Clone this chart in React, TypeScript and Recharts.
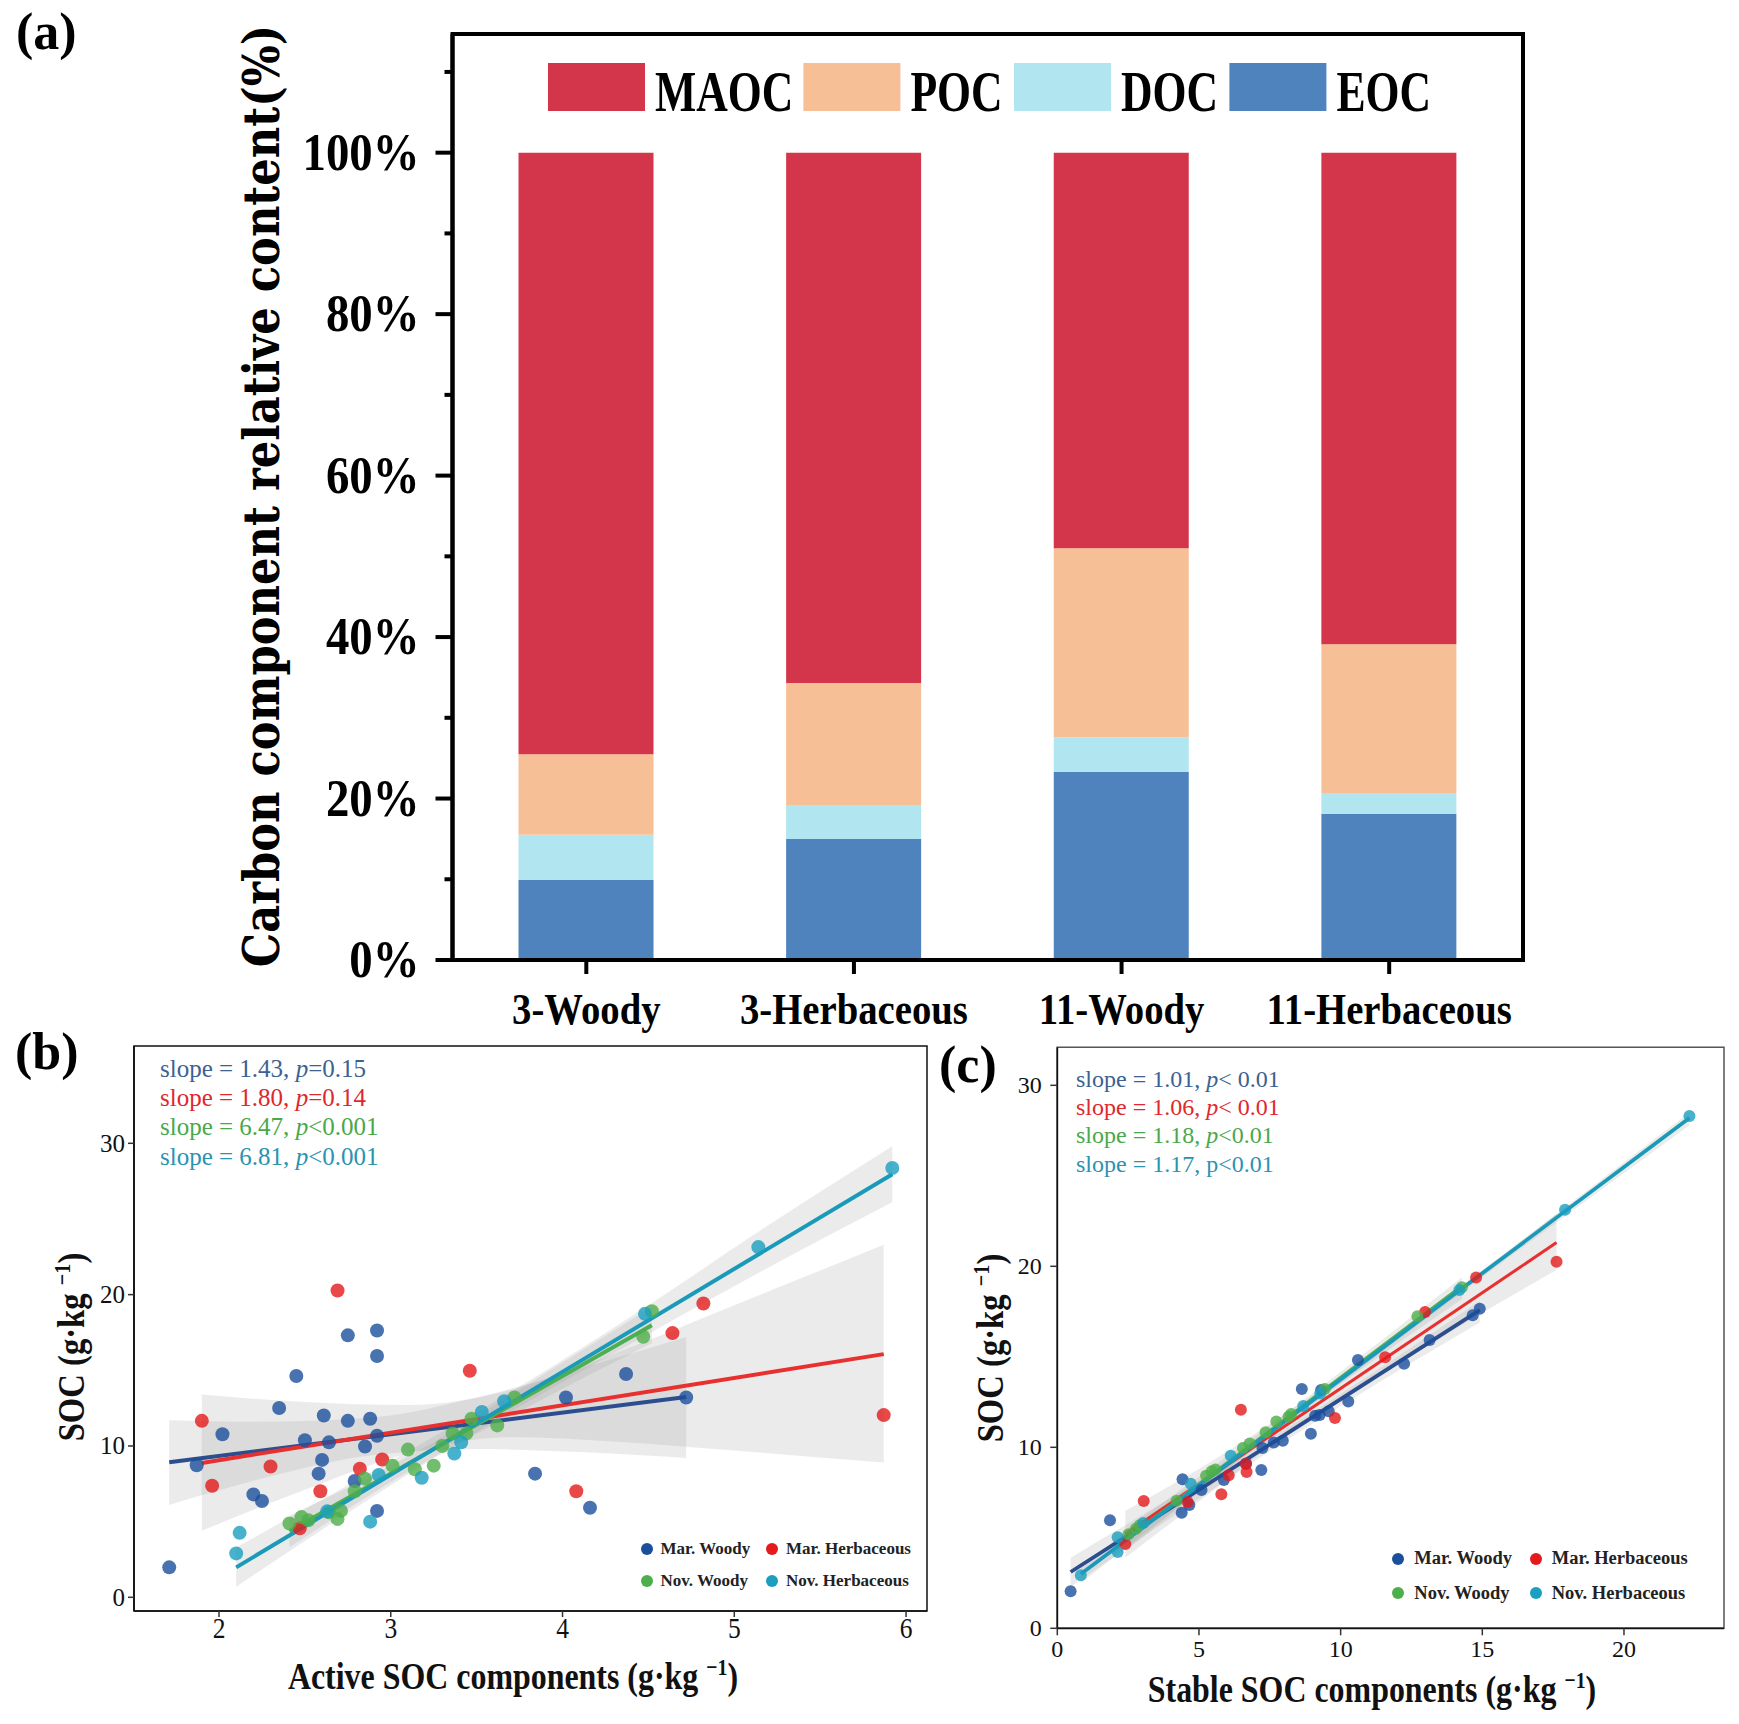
import React from "react";
import {
  BarChart,
  Bar,
  ComposedChart,
  Scatter,
  Line,
  Area,
  XAxis,
  YAxis,
  Legend,
  ReferenceArea,
} from "recharts";

const SERIF = '"Liberation Serif", "Times New Roman", serif';

// ---------- panel (a): stacked relative content ----------
const sites = ["3-Woody", "3-Herbaceous", "11-Woody", "11-Herbaceous"];
const eoc = [9.9, 15.0, 23.3, 18.1];
const doc = [5.6, 4.2, 4.3, 2.6];
const poc = [10.0, 15.1, 23.4, 18.4];
const maoc = [74.5, 65.7, 49.0, 60.9];
const pctTicks = [0, 10, 20, 30, 40, 50, 60, 70, 80, 90, 100, 110];
const fracLegendOrder = ["MAOC", "POC", "DOC", "EOC"];
const fracColors: Record<string, string> = {
  MAOC: "#D3364A",
  POC: "#F7BF95",
  DOC: "#B1E5EF",
  EOC: "#4F83BD",
};

const barData = sites.map((name, i) => ({
  name,
  EOC: eoc[i],
  DOC: doc[i],
  POC: poc[i],
  MAOC: maoc[i],
}));

// ---------- panel (b): active SOC components ----------
const bMarWoodyX = [1.71, 1.87, 2.02, 2.2, 2.25, 2.35, 2.45, 2.5, 2.58, 2.6, 2.61, 2.64, 2.75, 2.75, 2.79, 2.85, 2.88, 2.92, 2.92, 2.92, 2.92, 3.84, 4.02, 4.16, 4.37, 4.72];
const bMarWoodyY = [1.98, 8.73, 10.77, 6.8, 6.36, 12.51, 14.62, 10.38, 8.17, 9.08, 12.01, 10.24, 17.31, 11.66, 7.69, 9.97, 11.8, 17.63, 15.95, 10.68, 5.71, 8.17, 13.2, 5.92, 14.76, 13.2];
const bMarHerbX = [1.9, 1.96, 2.3, 2.47, 2.59, 2.69, 2.82, 2.95, 3.46, 4.08, 4.64, 4.82, 5.87];
const bMarHerbY = [11.66, 7.37, 8.64, 4.56, 7.01, 20.27, 8.49, 9.11, 14.97, 7.01, 17.46, 19.41, 12.04];
const bNovWoodyX = [2.41, 2.48, 2.52, 2.64, 2.69, 2.71, 2.79, 2.85, 3.01, 3.1, 3.14, 3.25, 3.3, 3.36, 3.44, 3.47, 3.62, 3.72, 4.47, 4.52];
const bNovWoodyY = [4.88, 5.3, 5.09, 5.62, 5.18, 5.71, 7.01, 7.84, 8.7, 9.76, 8.46, 8.7, 10.0, 10.83, 10.83, 11.8, 11.36, 13.2, 17.22, 18.91];
const bNovHerbX = [2.1, 2.12, 2.63, 2.88, 2.93, 3.18, 3.37, 3.41, 3.53, 3.66, 4.48, 5.14, 5.92];
const bNovHerbY = [2.9, 4.26, 5.68, 5.0, 8.08, 7.9, 9.5, 10.24, 12.25, 12.96, 18.73, 23.14, 28.37];

// fitted lines (end points)
const bFitMarWoody = { x: [1.71, 4.72], y: [8.93, 13.23] };
const bFitMarHerb = { x: [1.9, 5.87], y: [8.88, 16.07] };
const bFitNovWoody = { x: [2.41, 4.52], y: [4.37, 17.98] };
const bFitNovHerb = { x: [2.1, 5.92], y: [1.98, 27.96] };

// confidence bands
const bBandMarWoody = { x: [1.71, 2.2, 2.9, 3.5, 4.1, 4.72], lo: [6.1, 7.7, 9.4, 9.8, 9.6, 9.2], hi: [11.7, 11.6, 11.9, 13.2, 15.1, 17.2] };
const bBandMarHerb = { x: [1.9, 2.5, 3.1, 3.7, 4.3, 5.0, 5.87], lo: [4.4, 7.1, 9.5, 10.6, 10.3, 9.7, 8.9], hi: [13.4, 12.9, 12.7, 13.7, 16.1, 19.3, 23.3] };
const bBandNovWoody = { x: [2.41, 3.1, 3.8, 4.52], lo: [3.3, 8.3, 12.6, 16.8], hi: [5.4, 9.3, 14.1, 19.2] };
const bBandNovHerb = { x: [2.1, 3.0, 3.6, 4.5, 5.2, 5.92], lo: [0.7, 7.4, 11.6, 17.4, 21.8, 26.1], hi: [3.3, 9.0, 12.9, 19.3, 24.6, 29.8] };

const bSlopes = ["1.43", "1.80", "6.47", "6.81"];
const bPs = ["=0.15", "=0.14", "<0.001", "<0.001"];
const bXTicks = [2, 3, 4, 5, 6];
const bYTicks = [0, 10, 20, 30];

// ---------- panel (c): stable SOC components ----------
const cMarWoodyX = [0.47, 1.86, 4.42, 4.39, 4.66, 5.09, 5.88, 6.66, 7.2, 7.24, 7.64, 7.96, 8.63, 8.95, 9.1, 9.26, 9.31, 9.58, 10.27, 10.61, 12.24, 13.14, 14.66, 14.91];
const cMarWoodyY = [2.05, 5.97, 8.24, 6.39, 6.81, 7.64, 8.19, 9.1, 8.75, 9.96, 10.26, 10.36, 13.22, 10.75, 11.74, 11.79, 13.17, 11.99, 12.53, 14.82, 14.62, 15.93, 17.29, 17.66];
const cMarHerbX = [2.4, 3.05, 4.6, 5.79, 6.05, 6.48, 6.68, 6.66, 9.8, 11.57, 12.98, 14.78, 17.62];
const cMarHerbY = [4.66, 7.03, 6.98, 7.4, 8.46, 12.08, 8.63, 9.08, 11.62, 14.97, 17.48, 19.38, 20.25];
const cNovWoodyX = [2.51, 2.78, 2.91, 4.21, 5.25, 5.45, 5.58, 6.55, 6.79, 7.35, 7.73, 8.16, 8.25, 9.44, 12.71, 14.28];
const cNovWoodyY = [5.2, 5.5, 5.7, 7.05, 8.43, 8.68, 8.78, 9.96, 10.21, 10.83, 11.42, 11.69, 11.84, 13.22, 17.24, 18.84];
const cNovHerbX = [0.83, 2.13, 2.13, 3.03, 4.71, 6.12, 8.68, 9.28, 14.19, 17.92, 22.31];
const cNovHerbY = [2.93, 5.03, 4.22, 5.82, 7.99, 9.54, 12.28, 12.97, 18.69, 23.13, 28.31];

const cFitMarWoody = { x: [0.47, 14.91], y: [3.11, 17.58] };
const cFitMarHerb = { x: [2.4, 17.62], y: [5.22, 21.31] };
const cFitNovWoody = { x: [2.51, 14.28], y: [5.01, 18.9] };
const cFitNovHerb = { x: [0.83, 22.31], y: [3.0, 28.19] };

const cBandMarWoody = { x: [0.47, 4, 8, 12, 14.91], lo: [2.3, 6.1, 10.3, 14.2, 16.9], hi: [3.9, 7.2, 10.95, 15.0, 18.1] };
const cBandMarHerb = { x: [2.4, 5, 8, 11, 14, 17.62], lo: [3.9, 7.0, 10.6, 13.6, 16.5, 19.8], hi: [6.5, 8.8, 11.8, 15.0, 18.5, 22.9] };
const cBandNovWoody = { x: [2.51, 8, 14.28], lo: [4.4, 11.2, 18.2], hi: [5.6, 11.8, 19.4] };
const cBandNovHerb = { x: [0.83, 8, 15, 22.31], lo: [2.5, 11.2, 19.4, 27.8], hi: [3.5, 11.6, 19.8, 28.5] };

const cSlopes = ["1.01", "1.06", "1.18", "1.17"];
const cPs = ["< 0.01", "< 0.01", "<0.01", "<0.01"];
const cPItalic = [true, true, true, false];
const cXTicks = [0, 5, 10, 15, 20];
const cYTicks = [0, 10, 20, 30];

const groups = ["Mar. Woody", "Mar. Herbaceous", "Nov. Woody", "Nov. Herbaceous"];
const groupColors = ["#1B4F9C", "#E41A1C", "#4DAF4A", "#1A9FC0"];
const lineColors = ["#2C4E8E", "#E8302F", "#4CAF50", "#1A9AB8"];
const noteColors = ["#3D6191", "#E1272C", "#4AA84A", "#2A93B1"];

const pts = (xs: number[], ys: number[]) => xs.map((x, i) => ({ x, y: ys[i] }));
const fit = (f: { x: number[]; y: number[] }) => pts(f.x, f.y);
const band = (b: { x: number[]; lo: number[]; hi: number[] }) =>
  b.x.map((x, i) => ({ x, r: [b.lo[i], b.hi[i]] }));

// text helper: squeeze/stretch along the text direction
function SText({ tx, ty, fs, sx = 1, anchor = "middle", weight = "normal", fill = "#000", family = SERIF, rot = 0, children }: any) {
  return (
    <text
      transform={`translate(${tx},${ty}) rotate(${rot}) scale(${sx},1)`}
      fontSize={fs}
      fontFamily={family}
      fontWeight={weight}
      textAnchor={anchor}
      fill={fill}
    >
      {children}
    </text>
  );
}

// ---------- panel (a) pieces ----------
const PctTick = ({ x, y, payload }: any) => {
  const v = payload.value;
  const major = v % 20 === 0 && v <= 100;
  return (
    <g>
      <line x1={x - (major ? 17 : 8)} x2={x} y1={y} y2={y} stroke="#000" strokeWidth={4} />
      {major && (
        <SText tx={x - 33} ty={y + 17} fs={52} sx={0.9} anchor="end" weight="bold">
          {v}%
        </SText>
      )}
    </g>
  );
};

const SiteTick = ({ x, y, payload }: any) => (
  <g>
    <line x1={x} x2={x} y1={y} y2={y + 14} stroke="#000" strokeWidth={4} />
    <SText tx={x} ty={y + 64} fs={44} sx={0.88} weight="bold">
      {payload.value}
    </SText>
  </g>
);

const FracTitle = () => (
  <SText tx={279} ty={496} rot={-90} fs={50} sx={0.865} weight="bold" family='"DejaVu Serif", serif'>
    Carbon component relative content(%)
  </SText>
);

const fracSlots = [0, 255.4, 466, 681.4];
const FracLegend = ({ payload }: any) => {
  const names = fracLegendOrder.filter((n) => (payload || []).some((p: any) => p.value === n));
  return (
    <svg width={900} height={60} style={{ overflow: "visible", display: "block" }}>
      {names.map((n, i) => (
        <g key={n}>
          <rect x={fracSlots[i]} y={0} width={97} height={48} fill={fracColors[n]} />
          <SText tx={fracSlots[i] + 107} ty={47.7} fs={56} sx={0.78} anchor="start" weight="bold">
            {n}
          </SText>
        </g>
      ))}
    </svg>
  );
};

// ---------- scatter panel pieces ----------
const makeXTick = (o: any) => ({ x, y, payload }: any) => (
  <g>
    <line x1={x} x2={x} y1={y} y2={y + o.len} stroke="#333" strokeWidth={1.5} />
    <SText tx={x} ty={y + o.dy} fs={o.fs} sx={o.sx} fill="#111">
      {payload.value}
    </SText>
  </g>
);
const makeYTick = (o: any) => ({ x, y, payload }: any) => (
  <g>
    <line x1={x - o.len} x2={x} y1={y} y2={y} stroke="#333" strokeWidth={1.5} />
    <SText tx={x - o.gap} ty={y + o.dy} fs={o.fs} anchor="end" fill="#111">
      {payload.value}
    </SText>
  </g>
);

// axis title with a superscript unit; placed by its own anchor, not the axis viewBox
const UnitTitle = ({ ax, ay, rot = 0, txt, fs, sx }: any) => (
  <text
    transform={`translate(${ax},${ay}) rotate(${rot}) scale(${sx},1)`}
    fontSize={fs}
    fontFamily={SERIF}
    fontWeight="bold"
    textAnchor="middle"
    fill="#111"
  >
    {txt} (g·kg{" "}
    <tspan fontSize={fs * 0.62} dy={-fs * 0.36}>
      −1
    </tspan>
    <tspan dy={fs * 0.36}>)</tspan>
  </text>
);

const DotLegend = ({ payload, colW, rowH, r, fs, gap }: any) => {
  const items = groups.filter((g) => (payload || []).some((p: any) => p.value === g));
  return (
    <div style={{ position: "relative", width: colW * 2 + 170, height: rowH * 2 }}>
      {items.map((g, i) => (
        <div
          key={g}
          style={{
            position: "absolute",
            left: (i % 2) * colW,
            top: Math.floor(i / 2) * rowH,
            height: rowH,
            display: "flex",
            alignItems: "center",
            whiteSpace: "nowrap",
          }}
        >
          <span
            style={{
              display: "inline-block",
              width: 2 * r,
              height: 2 * r,
              borderRadius: "50%",
              background: groupColors[groups.indexOf(g)],
            }}
          />
          <span style={{ marginLeft: gap, fontFamily: SERIF, fontWeight: "bold", fontSize: fs, color: "#222" }}>
            {g}
          </span>
        </div>
      ))}
    </div>
  );
};

function Notes({ left, top, fs, lh, slopes, ps, italic }: any) {
  return (
    <div style={{ position: "absolute", left, top, fontFamily: SERIF, fontSize: fs, lineHeight: `${lh}px`, whiteSpace: "pre" }}>
      {slopes.map((s: string, i: number) => (
        <div key={i} style={{ color: noteColors[i] }}>
          {`slope = ${s}, `}
          {italic[i] ? <i>p</i> : "p"}
          {ps[i]}
        </div>
      ))}
    </div>
  );
}

function ScatterPanel({ width, height, margin, xDomain, yDomain, xTicks, yTicks, sets, fits, bands, r, lineW, frame, xTick, yTick, xTitle, yTitle, legend }: any) {
  return (
    <ComposedChart width={width} height={height} margin={margin}>
      <XAxis
        dataKey="x"
        type="number"
        domain={xDomain}
        ticks={xTicks}
        allowDataOverflow
        interval={0}
        height={80}
        tickSize={0}
        tickMargin={0}
        tickLine={false}
        axisLine={{ stroke: "#111", strokeWidth: 1.7 }}
        tick={xTick}
        label={{ content: () => xTitle }}
      />
      <YAxis
        type="number"
        domain={yDomain}
        ticks={yTicks}
        allowDataOverflow
        interval={0}
        width={70}
        tickSize={0}
        tickMargin={0}
        tickLine={false}
        axisLine={{ stroke: "#111", strokeWidth: 1.7 }}
        tick={yTick}
        label={{ content: () => yTitle }}
      />
      <ReferenceArea x1={xDomain[0]} x2={xDomain[1]} y1={yDomain[0]} y2={yDomain[1]} fill="none" stroke={frame} strokeWidth={1.5} />
      {bands.map((b: any, i: number) => (
        <Area
          key={`band${i}`}
          data={b}
          dataKey="r"
          type="monotone"
          stroke="none"
          fill="#9A9A9A"
          fillOpacity={0.2}
          legendType="none"
          isAnimationActive={false}
          activeDot={false}
        />
      ))}
      {sets.map((s: any, i: number) => (
        <Scatter
          key={groups[i]}
          name={groups[i]}
          data={s}
          dataKey="y"
          fill={groupColors[i]}
          isAnimationActive={false}
          shape={(p: any) => <circle cx={p.cx} cy={p.cy} r={r} fill={groupColors[i]} fillOpacity={0.8} />}
        />
      ))}
      {fits.map((f: any, i: number) => (
        <Line
          key={`fit${i}`}
          data={f}
          dataKey="y"
          type="linear"
          stroke={lineColors[i]}
          strokeWidth={lineW[i]}
          dot={false}
          activeDot={false}
          legendType="none"
          isAnimationActive={false}
        />
      ))}
      {legend}
    </ComposedChart>
  );
}

export default function App() {
  const bLegend = (
    <Legend
      layout="horizontal"
      verticalAlign="middle"
      align="center"
      wrapperStyle={{ left: 640.5, top: 512.5, width: "auto", height: "auto" }}
      content={(p: any) => <DotLegend payload={p.payload} colW={125.5} rowH={32.2} r={6} fs={17} gap={8} />}
    />
  );
  const cLegend = (
    <Legend
      layout="horizontal"
      verticalAlign="middle"
      align="center"
      wrapperStyle={{ left: 452.3, top: 521.85, width: "auto", height: "auto" }}
      content={(p: any) => <DotLegend payload={p.payload} colW={137.4} rowH={34.3} r={6} fs={18.5} gap={10} />}
    />
  );

  return (
    <div style={{ position: "absolute", left: 0, top: 0, width: 1739, height: 1724, background: "#fff", overflow: "hidden" }}>
      {/* (a) */}
      <div style={{ position: "absolute", left: 0, top: 0 }}>
        <BarChart width={1739} height={1060} data={barData} margin={{ top: 34, right: 216, bottom: 20, left: 352.5 }}>
          <XAxis
            dataKey="name"
            interval={0}
            height={80}
            tickSize={0}
            tickMargin={0}
            tickLine={false}
            axisLine={{ stroke: "#000", strokeWidth: 4 }}
            tick={<SiteTick />}
          />
          <YAxis
            type="number"
            domain={[0, 114.7]}
            ticks={pctTicks}
            allowDataOverflow
            interval={0}
            width={100}
            tickSize={0}
            tickMargin={0}
            tickLine={false}
            axisLine={{ stroke: "#000", strokeWidth: 4 }}
            tick={<PctTick />}
            label={{ content: () => <FracTitle /> }}
          />
          <Bar dataKey="EOC" stackId="s" fill={fracColors.EOC} barSize={135} isAnimationActive={false} />
          <Bar dataKey="DOC" stackId="s" fill={fracColors.DOC} barSize={135} isAnimationActive={false} />
          <Bar dataKey="POC" stackId="s" fill={fracColors.POC} barSize={135} isAnimationActive={false} />
          <Bar dataKey="MAOC" stackId="s" fill={fracColors.MAOC} barSize={135} isAnimationActive={false} />
          <ReferenceArea y1={0} y2={114.7} fill="none" stroke="#000" strokeWidth={4} />
          <Legend
            layout="horizontal"
            verticalAlign="middle"
            align="center"
            wrapperStyle={{ left: 547.6, top: 63, width: "auto", height: "auto" }}
            content={(p: any) => <FracLegend payload={p.payload} />}
          />
        </BarChart>
      </div>

      {/* (b) */}
      <div style={{ position: "absolute", left: 0, top: 1020 }}>
        <ScatterPanel
          width={940}
          height={704}
          margin={{ top: 26, right: 13, bottom: 33, left: 64 }}
          xDomain={[1.505, 6.122]}
          yDomain={[-0.905, 36.43]}
          xTicks={bXTicks}
          yTicks={bYTicks}
          sets={[pts(bMarWoodyX, bMarWoodyY), pts(bMarHerbX, bMarHerbY), pts(bNovWoodyX, bNovWoodyY), pts(bNovHerbX, bNovHerbY)]}
          fits={[fit(bFitMarWoody), fit(bFitMarHerb), fit(bFitNovWoody), fit(bFitNovHerb)]}
          bands={[band(bBandMarWoody), band(bBandMarHerb), band(bBandNovWoody), band(bBandNovHerb)]}
          r={7}
          lineW={[4, 4, 4, 4]}
          frame="#111"
          xTick={makeXTick({ len: 6, dy: 27, fs: 30, sx: 0.85 })}
          yTick={makeYTick({ len: 6, gap: 9, dy: 8.5, fs: 25 })}
          xTitle={<UnitTitle ax={513} ay={669} txt="Active SOC components" fs={38} sx={0.84} />}
          yTitle={<UnitTitle ax={84} ay={327} rot={-90} txt="SOC" fs={38} sx={0.86} />}
          legend={bLegend}
        />
      </div>

      {/* (c) */}
      <div style={{ position: "absolute", left: 940, top: 1020 }}>
        <ScatterPanel
          width={799}
          height={704}
          margin={{ top: 27.3, right: 15, bottom: 15.7, left: 47.3 }}
          xDomain={[0, 23.53]}
          yDomain={[0, 32.1]}
          xTicks={cXTicks}
          yTicks={cYTicks}
          sets={[pts(cMarWoodyX, cMarWoodyY), pts(cMarHerbX, cMarHerbY), pts(cNovWoodyX, cNovWoodyY), pts(cNovHerbX, cNovHerbY)]}
          fits={[fit(cFitMarWoody), fit(cFitMarHerb), fit(cFitNovWoody), fit(cFitNovHerb)]}
          bands={[band(cBandMarWoody), band(cBandMarHerb), band(cBandNovWoody), band(cBandNovHerb)]}
          r={6}
          lineW={[3.8, 3, 3.5, 3.8]}
          frame="#555"
          xTick={makeXTick({ len: 7, dy: 28.4, fs: 24, sx: 1 })}
          yTick={makeYTick({ len: 7, gap: 15.6, dy: 8, fs: 24 })}
          xTitle={<UnitTitle ax={432} ay={682} txt="Stable SOC components" fs={38} sx={0.84} />}
          yTitle={<UnitTitle ax={63} ay={328} rot={-90} txt="SOC" fs={38} sx={0.86} />}
          legend={cLegend}
        />
      </div>

      <Notes left={160} top={1053.6} fs={25} lh={29.4} slopes={bSlopes} ps={bPs} italic={[true, true, true, true]} />
      <Notes left={1076} top={1064.8} fs={24} lh={28.3} slopes={cSlopes} ps={cPs} italic={cPItalic} />

      {[
        { t: "(a)", left: 16, top: 5.5 },
        { t: "(b)", left: 15, top: 1025.5 },
        { t: "(c)", left: 939, top: 1038.5 },
      ].map((p) => (
        <div
          key={p.t}
          style={{ position: "absolute", left: p.left, top: p.top, fontFamily: SERIF, fontWeight: "bold", fontSize: 52, lineHeight: "52px" }}
        >
          {p.t}
        </div>
      ))}
    </div>
  );
}
